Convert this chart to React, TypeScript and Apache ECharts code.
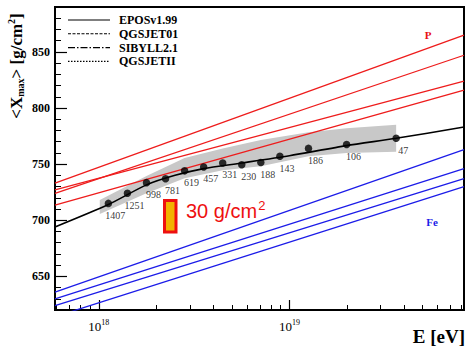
import React, { useEffect, useRef } from "react";
import * as echarts from "echarts";

// ---- data (x values are log10(E/eV)) ----
const pointLogE = [18.05, 18.15, 18.25, 18.35, 18.45, 18.55, 18.65, 18.75, 18.85, 18.95, 19.1, 19.3, 19.56];
const pointXmax = [715, 724, 733.5, 737, 744, 747.5, 751, 749.5, 751.5, 757, 764, 767.5, 773];
const pointEvents = [1407, 1251, 998, 781, 619, 457, 331, 230, 188, 143, 186, 106, 47];

const eposLogE = [17.77, 18.05, 18.25, 18.4, 18.55, 18.75, 19.0, 19.3, 19.56, 19.916];
const eposXmax = [694, 714, 731.5, 740, 746, 751, 757.5, 766.5, 773, 783];

const bandLogE = [18.005, 18.25, 18.45, 18.65, 18.85, 19.1, 19.3, 19.56];
const bandLow = [705.5, 724, 737.5, 744.5, 748, 757, 760, 761];
const bandHigh = [718, 739.5, 755.5, 764, 771.5, 778.5, 782, 785];

const edgeLogE = [17.77, 19.916];
const protonLines = [
  [733, 865],
  [724, 847],
  [727, 824],
  [713.5, 816],
];
const ironLines = [
  [636, 763],
  [630, 746],
  [624, 737],
  [614, 730],
];

const yMajor = [650, 700, 750, 800, 850];
const xMajor = [18, 19];
const legendNames = ["EPOSv1.99", "QGSJET01", "SIBYLL2.1", "QGSJETII"];

const SERIF = "Liberation Serif, Times New Roman, serif";
const SANS = "Liberation Sans, Arial, sans-serif";

export default function App() {
  const ref = useRef<HTMLDivElement>(null);
  useEffect(() => {
    if (!ref.current) return;
    const chart = echarts.init(ref.current, null, { renderer: "svg" });

    const xMin = 17.77;
    const xMax = 19.916;
    const yMin = 620;
    const yMax = 890;

    const xMinor: number[] = [];
    for (let n = 17; n <= 19; n++) {
      for (let k = 2; k <= 9; k++) {
        const v = Math.log10(k) + n;
        if (v > xMin && v < xMax) xMinor.push(v);
      }
    }
    const yMinor: number[] = [];
    for (let v = 630; v < yMax; v += 10) if (v % 50 !== 0) yMinor.push(v);

    const lineSeries = (vals: number[], color: string) => ({
      type: "line",
      data: edgeLogE.map((x, i) => [x, vals[i]]),
      showSymbol: false,
      symbol: "none",
      lineStyle: { color, width: 1.3 },
      z: 3,
      silent: true,
    });

    const legendStyles: any[] = [null, [3, 1.5], [7, 2, 1.5, 2], [1.5, 1.5]];
    const legendGraphics: any[] = [];
    legendNames.forEach((name, i) => {
      const y = 20 + i * 13.8;
      legendGraphics.push({
        type: "line",
        shape: { x1: 68, y1: y, x2: 110, y2: y },
        style: { stroke: "#000", lineWidth: 1.1, lineDash: legendStyles[i] || undefined },
      });
      legendGraphics.push({
        type: "text",
        x: 119,
        y: y,
        style: {
          text: name,
          font: `bold 12px ${SERIF}`,
          fill: "#000",
          verticalAlign: "middle",
        },
      });
    });

    chart.setOption({
      animation: false,
      grid: {
        left: 55,
        right: 3,
        top: 7,
        bottom: 38,
        show: true,
        borderColor: "#000",
        borderWidth: 2,
        backgroundColor: "transparent",
      },
      xAxis: [
        {
          type: "value",
          min: xMin,
          max: xMax,
          position: "bottom",
          axisLine: { show: true, lineStyle: { color: "#000", width: 2 } },
          axisTick: { show: true, inside: true, length: 10, customValues: xMajor, lineStyle: { color: "#000", width: 1.2 } },
          axisLabel: {
            show: true,
            margin: 8,
            customValues: xMajor,
            formatter: (v: number) => `{b|10}{s|${Math.round(v)}}`,
            rich: {
              b: { fontFamily: SERIF, fontSize: 13, color: "#000" },
              s: { fontFamily: SERIF, fontSize: 8, color: "#000", padding: [0, 0, 9, 0] },
            },
          },
          splitLine: { show: false },
        },
        {
          type: "value",
          min: xMin,
          max: xMax,
          position: "bottom",
          axisLine: { show: false },
          axisTick: { show: true, inside: true, length: 5, customValues: xMinor, lineStyle: { color: "#000", width: 1 } },
          axisLabel: { show: false },
          splitLine: { show: false },
        },
      ],
      yAxis: [
        {
          type: "value",
          min: yMin,
          max: yMax,
          position: "left",
          axisLine: { show: true, lineStyle: { color: "#000", width: 2 } },
          axisTick: { show: true, inside: true, length: 12, customValues: yMajor, lineStyle: { color: "#000", width: 1.2 } },
          axisLabel: {
            show: true,
            margin: 5,
            customValues: yMajor,
            fontFamily: SERIF,
            fontWeight: "bold",
            fontSize: 12,
            color: "#000",
          },
          splitLine: { show: false },
        },
        {
          type: "value",
          min: yMin,
          max: yMax,
          position: "left",
          axisLine: { show: false },
          axisTick: { show: true, inside: true, length: 6, customValues: yMinor, lineStyle: { color: "#000", width: 1 } },
          axisLabel: { show: false },
          splitLine: { show: false },
        },
      ],
      series: [
        {
          type: "custom",
          silent: true,
          z: 1,
          data: bandLogE.map((x, i) => [x, bandLow[i], bandHigh[i]]),
          encode: { x: 0, y: 1 },
          renderItem: (params: any, api: any) => {
            if (params.dataIndex !== 0) return null;
            const pts: number[][] = [];
            for (let i = 0; i < bandLogE.length; i++) pts.push(api.coord([bandLogE[i], bandHigh[i]]));
            for (let i = bandLogE.length - 1; i >= 0; i--) pts.push(api.coord([bandLogE[i], bandLow[i]]));
            return { type: "polygon", shape: { points: pts }, style: { fill: "#c8c8c8" } };
          },
        },
        ...protonLines.map((l) => lineSeries(l, "#ee1c1c")),
        ...ironLines.map((l) => lineSeries(l, "#1c1ce8")),
        {
          type: "line",
          data: eposLogE.map((x, i) => [x, eposXmax[i]]),
          smooth: 0.25,
          showSymbol: false,
          symbol: "none",
          lineStyle: { color: "#000", width: 1.6 },
          z: 4,
          silent: true,
        },
        {
          type: "scatter",
          data: pointLogE.map((x, i) => [x, pointXmax[i]]),
          symbol: "circle",
          symbolSize: 7.5,
          itemStyle: { color: "#000" },
          z: 5,
          silent: true,
          label: {
            show: true,
            position: "bottom",
            distance: 3,
            offset: [7, 0],
            formatter: (p: any) => String(pointEvents[p.dataIndex]),
            fontFamily: SERIF,
            fontSize: 10,
            color: "#000",
            textBorderWidth: 0,
          },
        },
      ],
      graphic: [
        ...legendGraphics,
        {
          type: "text",
          x: 16,
          y: 66,
          rotation: Math.PI / 2,
          style: {
            text: "{a|<X}{sub|max}{a|> [g/cm}{sup|2}{a|]}",
            align: "center",
            verticalAlign: "middle",
            rich: {
              a: { fontFamily: SERIF, fontWeight: "bold", fontSize: 17, fill: "#000" },
              sub: { fontFamily: SERIF, fontWeight: "bold", fontSize: 10, fill: "#000", padding: [9, 0, 0, 0] },
              sup: { fontFamily: SERIF, fontWeight: "bold", fontSize: 10, fill: "#000", padding: [0, 0, 9, 0] },
            },
          },
        },
        {
          type: "text",
          x: 465,
          y: 346,
          style: {
            text: "E [eV]",
            font: `bold 19px ${SERIF}`,
            fill: "#000",
            align: "right",
            verticalAlign: "bottom",
          },
        },
        {
          type: "text",
          x: 428,
          y: 35,
          style: { text: "P", font: `bold 11px ${SERIF}`, fill: "#e81010", align: "center", verticalAlign: "middle" },
        },
        {
          type: "text",
          x: 432,
          y: 222,
          style: { text: "Fe", font: `bold 11px ${SERIF}`, fill: "#1c1ce8", align: "center", verticalAlign: "middle" },
        },
        {
          type: "rect",
          shape: { x: 164.5, y: 200.5, width: 11.5, height: 31.5 },
          style: { fill: "#f2b200", stroke: "#ee1010", lineWidth: 3 },
        },
        {
          type: "text",
          x: 186,
          y: 211,
          style: {
            text: "{a|30 g/cm}{s|2}",
            verticalAlign: "middle",
            rich: {
              a: { fontFamily: SANS, fontSize: 20, fill: "#ee1010" },
              s: { fontFamily: SANS, fontSize: 13, fill: "#ee1010", padding: [0, 0, 12, 1] },
            },
          },
        },
      ],
    });
    return () => chart.dispose();
  }, []);
  return <div ref={ref} style={{ position: "fixed", left: 0, top: 0, width: 467, height: 348, background: "#fff" }} />;
}
